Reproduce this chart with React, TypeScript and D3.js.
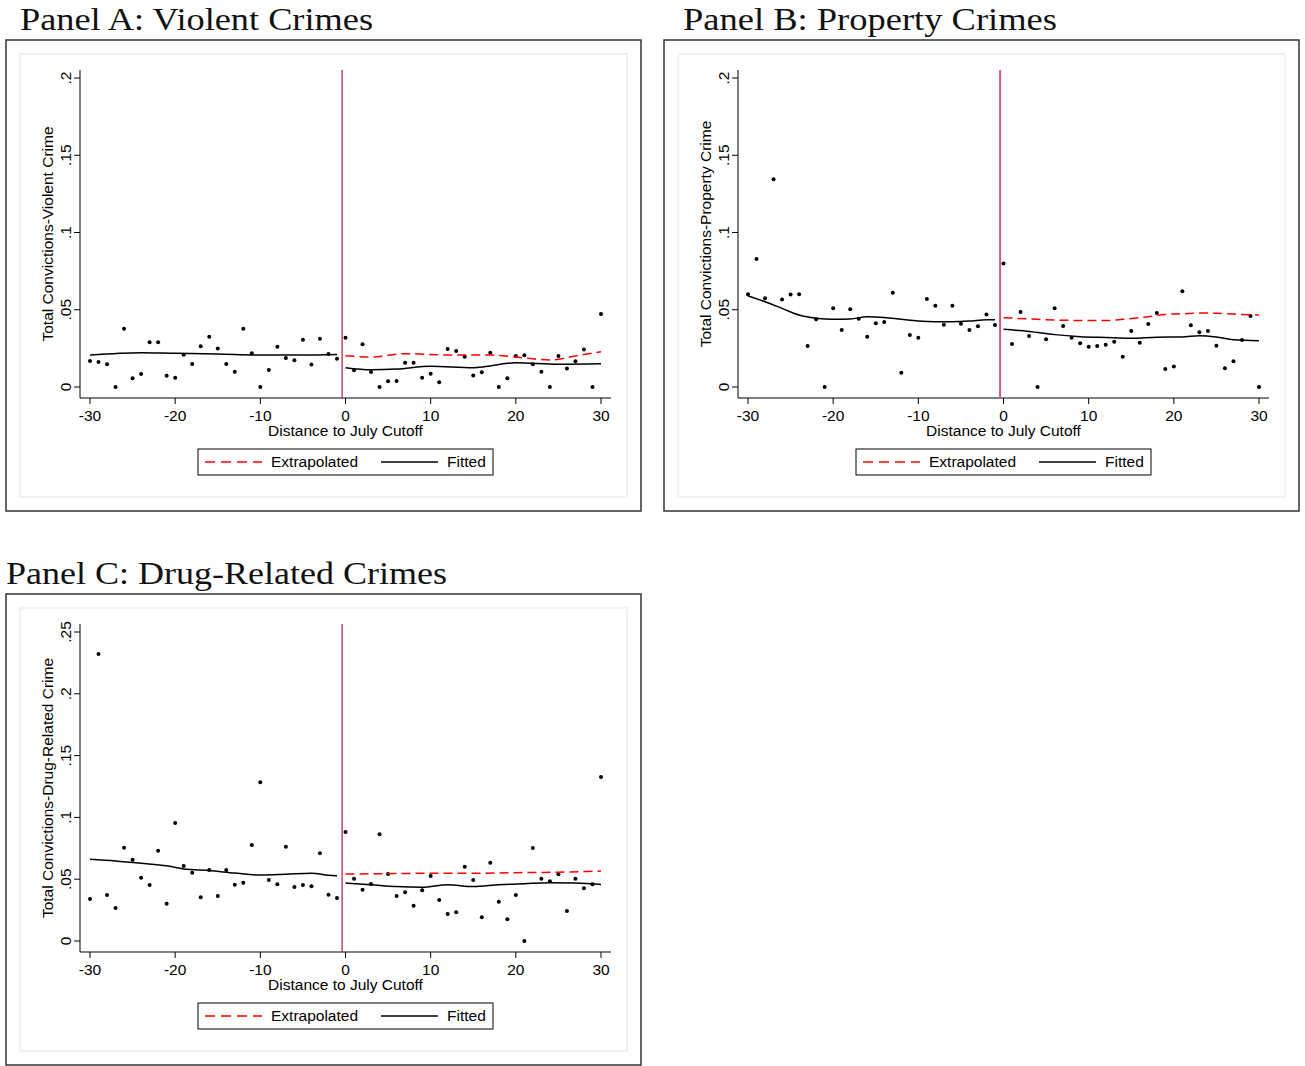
import React from 'react';
import * as d3 from 'd3';

// days relative to the July cutoff
const days = [
  -30, -29, -28, -27, -26, -25, -24, -23, -22, -21, -20, -19, -18, -17, -16, -15,
  -14, -13, -12, -11, -10, -9, -8, -7, -6, -5, -4, -3, -2, -1, 0, 1, 2, 3, 4, 5,
  6, 7, 8, 9, 10, 11, 12, 13, 14, 15, 16, 17, 18, 19, 20, 21, 22, 23, 24, 25, 26,
  27, 28, 29, 30,
];

const violentMeans = [
  0.0168, 0.0162, 0.0147, 0, 0.0377, 0.0056, 0.0084, 0.029, 0.0289, 0.0073, 0.006,
  0.0209, 0.0149, 0.0263, 0.0326, 0.025, 0.0149, 0.0099, 0.0377, 0.0218, 0, 0.011,
  0.0261, 0.0188, 0.0173, 0.0306, 0.0145, 0.0313, 0.0214, 0.0183, 0.0319, 0.0108,
  0.0276, 0.0097, 0, 0.0037, 0.0039, 0.0157, 0.0157, 0.006, 0.0086, 0.003, 0.0246,
  0.0233, 0.0196, 0.0075, 0.0095, 0.0222, 0, 0.0056, 0.0201, 0.0205, 0.0147, 0.0099,
  0, 0.0201, 0.0119, 0.0166, 0.0242, 0, 0.0472,
];
const propertyMeans = [
  0.06, 0.0828, 0.0574, 0.1344, 0.0567, 0.0598, 0.06, 0.0265, 0.0438, 0, 0.0509,
  0.0369, 0.0503, 0.0442, 0.0326, 0.0412, 0.0421, 0.061, 0.0093, 0.0337, 0.0319,
  0.057, 0.0526, 0.0403, 0.0526, 0.041, 0.0369, 0.0393, 0.047, 0.0401, 0.08, 0.0278,
  0.0485, 0.033, 0, 0.0309, 0.0509, 0.0395, 0.0319, 0.0283, 0.0261, 0.0265, 0.0274,
  0.0293, 0.0196, 0.0362, 0.0287, 0.0408, 0.0479, 0.0117, 0.0132, 0.0619, 0.0399,
  0.0354, 0.0362, 0.0267, 0.0121, 0.0166, 0.0304, 0.046, 0,
];
const drugMeans = [
  0.034, 0.2322, 0.0372, 0.0267, 0.0755, 0.0658, 0.0512, 0.0453, 0.0731, 0.0302,
  0.0955, 0.0607, 0.0553, 0.0353, 0.0574, 0.0364, 0.0574, 0.0456, 0.0472, 0.0777,
  0.1284, 0.0494, 0.0459, 0.0763, 0.0437, 0.0453, 0.0442, 0.0709, 0.0375, 0.0348,
  0.0882, 0.0504, 0.0415, 0.0461, 0.0863, 0.0542, 0.0364, 0.0394, 0.0286, 0.041,
  0.0526, 0.0332, 0.0218, 0.0232, 0.0601, 0.0493, 0.0192, 0.0634, 0.0318, 0.0175,
  0.0372, 0, 0.0752, 0.0504, 0.0483, 0.054, 0.0243, 0.0504, 0.0426, 0.0459, 0.1327,
];

// fitted (left and right of cutoff) and extrapolated curves
const violentFitLeftX = [-30, -24, -20, -15, -10, -5, -1];
const violentFitLeftY = [0.0207, 0.0222, 0.0218, 0.0214, 0.0207, 0.0207, 0.0211];
const violentFitRightX = [0, 3, 6, 10, 15, 20, 25, 30];
const violentFitRightY = [0.0125, 0.0112, 0.0116, 0.0134, 0.0125, 0.0157, 0.0147, 0.015];
const violentExtrapX = [0, 3, 7, 12, 17, 20, 24, 27, 30];
const violentExtrapY = [0.0203, 0.0194, 0.0216, 0.0207, 0.0207, 0.0194, 0.0175, 0.0201, 0.0228];

const propertyFitLeftX = [-30, -28, -26, -24, -22, -20, -18, -16, -14, -12, -10, -8, -6, -4, -2, -1];
const propertyFitLeftY = [
  0.0589, 0.0552, 0.0509, 0.0466, 0.0445, 0.0438, 0.044, 0.0455, 0.045, 0.0438, 0.0427,
  0.0423, 0.0423, 0.0427, 0.0436, 0.0436,
];
const propertyFitRightX = [0, 3, 6, 9, 12, 15, 18, 21, 23, 25, 27, 30];
const propertyFitRightY = [
  0.0373, 0.036, 0.0339, 0.0326, 0.032, 0.0315, 0.0322, 0.0324, 0.0332, 0.0324, 0.0306, 0.03,
];
const propertyExtrapX = [0, 4, 8, 12, 14, 17, 19, 21, 23, 25, 27, 30];
const propertyExtrapY = [
  0.0449, 0.0438, 0.0431, 0.043, 0.0438, 0.0455, 0.047, 0.0474, 0.0479, 0.0477, 0.0472, 0.0466,
];

const drugFitLeftX = [-30, -27, -24, -21, -19, -16, -13, -10, -7, -4, -2, -1];
const drugFitLeftY = [
  0.0661, 0.0647, 0.0629, 0.0609, 0.0583, 0.057, 0.055, 0.0534, 0.054, 0.0548, 0.0531, 0.0528,
];
const drugFitRightX = [0, 3, 6, 9, 12, 15, 18, 21, 24, 27, 30];
const drugFitRightY = [0.0469, 0.0455, 0.044, 0.0435, 0.0455, 0.044, 0.0455, 0.0464, 0.0472, 0.0469, 0.0458];
const drugExtrapX = [0, 5, 10, 15, 20, 25, 30];
const drugExtrapY = [0.0542, 0.0545, 0.0548, 0.0548, 0.0553, 0.0557, 0.0566];

const xTicks = [-30, -20, -10, 0, 10, 20, 30];
const yTicksLow = [0, 0.05, 0.1, 0.15, 0.2];
const yTicksHigh = [0, 0.05, 0.1, 0.15, 0.2, 0.25];

const sans = '"Liberation Sans", Arial, sans-serif';
const serif = '"Liberation Serif", "DejaVu Serif", serif';
const fs = 15.5;
const cutoff = -0.4;

const fmtY = (v: number) => (v === 0 ? '0' : d3.format('.2~f')(v).replace(/^0/, ''));

type PanelProps = {
  ox: number;
  oy: number;
  title: string;
  titleX: number;
  titleY: number;
  titleLen: number;
  yLabel: string;
  yTicks: number[];
  yMax: number;
  means: number[];
  fitLeft: [number[], number[]];
  fitRight: [number[], number[]];
  extrap: [number[], number[]];
  cutoffColor: string;
  cutoffWidth: number;
};

function Panel(p: PanelProps) {
  const x = d3.scaleLinear().domain([-30, 30]).range([p.ox + 84, p.ox + 595]);
  const y = d3.scaleLinear().domain([0, p.yMax]).range([p.oy + 347, p.oy + 38]);
  const axisY = p.oy + 358;
  const axisX = p.ox + 74;
  const line = d3
    .line<[number, number]>()
    .x((d) => x(d[0]))
    .y((d) => y(d[1]))
    .curve(d3.curveMonotoneX);
  const pts = (s: [number[], number[]]) => s[0].map((v, i) => [v, s[1][i]] as [number, number]);
  const lg = { x: p.ox + 192, y: p.oy + 409 };

  return (
    <g>
      <text
        x={p.titleX}
        y={p.titleY}
        fontFamily={serif}
        fontSize={32}
        fontWeight={300}
        fill="#111"
        textLength={p.titleLen}
        lengthAdjust="spacingAndGlyphs"
      >
        {p.title}
      </text>
      <rect x={p.ox} y={p.oy} width={635} height={471} fill="#fff" stroke="#333" strokeWidth={1.5} />
      <rect x={p.ox + 14} y={p.oy + 14} width={607} height={443} fill="none" stroke="#e8eff0" strokeWidth={1.5} />

      {/* y axis */}
      <line x1={axisX} x2={axisX} y1={p.oy + 30} y2={axisY} stroke="#000" />
      {p.yTicks.map((t) => (
        <g key={t}>
          <line x1={axisX - 6} x2={axisX} y1={y(t)} y2={y(t)} stroke="#000" />
          <text
            transform={`translate(${axisX - 9},${y(t)}) rotate(-90)`}
            textAnchor="middle"
            fontFamily={sans}
            fontSize={fs}
          >
            {fmtY(t)}
          </text>
        </g>
      ))}
      <text
        transform={`translate(${p.ox + 47},${(p.oy + 30 + axisY) / 2}) rotate(-90)`}
        textAnchor="middle"
        fontFamily={sans}
        fontSize={fs}
      >
        {p.yLabel}
      </text>

      {/* x axis */}
      <line x1={axisX} x2={p.ox + 605} y1={axisY} y2={axisY} stroke="#000" />
      {xTicks.map((t) => (
        <g key={t}>
          <line x1={x(t)} x2={x(t)} y1={axisY} y2={axisY + 6} stroke="#000" />
          <text x={x(t)} y={axisY + 23} textAnchor="middle" fontFamily={sans} fontSize={fs}>
            {t}
          </text>
        </g>
      ))}
      <text x={x(0)} y={axisY + 38} textAnchor="middle" fontFamily={sans} fontSize={fs}>
        Distance to July Cutoff
      </text>

      {/* cutoff */}
      <line
        x1={x(cutoff)}
        x2={x(cutoff)}
        y1={p.oy + 30}
        y2={axisY}
        stroke={p.cutoffColor}
        strokeWidth={p.cutoffWidth}
      />

      {/* binned means */}
      {days.map((d, i) => (
        <circle key={d} cx={x(d)} cy={y(p.means[i])} r={2} fill="#000" />
      ))}

      {/* curves */}
      <path d={line(pts(p.fitLeft)) || ''} fill="none" stroke="#000" strokeWidth={1.5} />
      <path d={line(pts(p.fitRight)) || ''} fill="none" stroke="#000" strokeWidth={1.5} />
      <path
        d={line(pts(p.extrap)) || ''}
        fill="none"
        stroke="#f00"
        strokeWidth={1.5}
        strokeDasharray="9,5"
      />

      {/* legend */}
      <rect x={lg.x} y={lg.y} width={295} height={26} fill="#fff" stroke="#000" />
      <line x1={lg.x + 7} x2={lg.x + 64} y1={lg.y + 13} y2={lg.y + 13} stroke="#f00" strokeWidth={1.3} strokeDasharray="10,6" />
      <text x={lg.x + 73} y={lg.y + 18} fontFamily={sans} fontSize={fs}>
        Extrapolated
      </text>
      <line x1={lg.x + 183} x2={lg.x + 240} y1={lg.y + 13} y2={lg.y + 13} stroke="#000" strokeWidth={1.3} />
      <text x={lg.x + 249} y={lg.y + 18} fontFamily={sans} fontSize={fs}>
        Fitted
      </text>
    </g>
  );
}

export default function App() {
  return (
    <svg
      width={1305}
      height={1066}
      style={{ position: 'absolute', left: 0, top: 0, background: '#fff' }}
    >
      <Panel
        ox={6}
        oy={40}
        title="Panel A: Violent Crimes"
        titleX={20}
        titleY={30}
        titleLen={353}
        yLabel="Total Convictions-Violent Crime"
        yTicks={yTicksLow}
        yMax={0.2}
        means={violentMeans}
        fitLeft={[violentFitLeftX, violentFitLeftY]}
        fitRight={[violentFitRightX, violentFitRightY]}
        extrap={[violentExtrapX, violentExtrapY]}
        cutoffColor="#b0173e"
        cutoffWidth={1.2}
      />
      <Panel
        ox={664}
        oy={40}
        title="Panel B: Property Crimes"
        titleX={683}
        titleY={30}
        titleLen={374}
        yLabel="Total Convictions-Property Crime"
        yTicks={yTicksLow}
        yMax={0.2}
        means={propertyMeans}
        fitLeft={[propertyFitLeftX, propertyFitLeftY]}
        fitRight={[propertyFitRightX, propertyFitRightY]}
        extrap={[propertyExtrapX, propertyExtrapY]}
        cutoffColor="#d4587a"
        cutoffWidth={2}
      />
      <Panel
        ox={6}
        oy={594}
        title="Panel C: Drug-Related Crimes"
        titleX={6}
        titleY={584}
        titleLen={441}
        yLabel="Total Convictions-Drug-Related Crime"
        yTicks={yTicksHigh}
        yMax={0.25}
        means={drugMeans}
        fitLeft={[drugFitLeftX, drugFitLeftY]}
        fitRight={[drugFitRightX, drugFitRightY]}
        extrap={[drugExtrapX, drugExtrapY]}
        cutoffColor="#b0173e"
        cutoffWidth={1.2}
      />
    </svg>
  );
}
